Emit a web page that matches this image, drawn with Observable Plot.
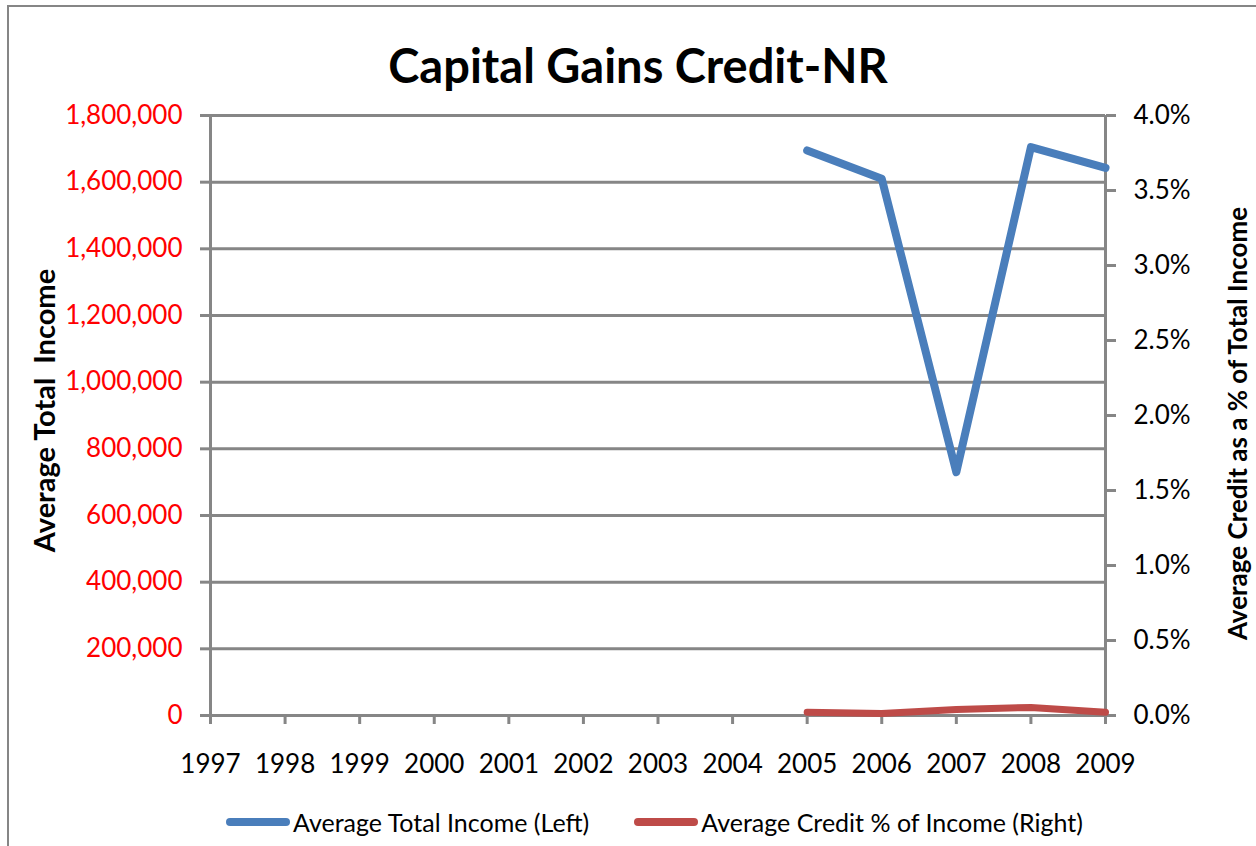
<!DOCTYPE html>
<html>
<head>
<meta charset="utf-8">
<script src="https://cdn.jsdelivr.net/npm/d3@7"></script>
<script src="https://cdn.jsdelivr.net/npm/@observablehq/plot@0.6"></script>
<style>
  html, body { margin: 0; padding: 0; background: #fff; overflow: hidden; }
  body { font-family: Lato, "Open Sans", sans-serif; width: 1256px; height: 846px; position: relative; }
  #frame { position: absolute; left: 7px; top: 5px; width: 1400px; height: 1000px;
           border-left: 2px solid #868686; border-top: 2px solid #868686; box-sizing: border-box; }
  #title { position: absolute; left: 0; top: 38px; width: 1276px; text-align: center;
           font-weight: bold; font-size: 47px; line-height: 54px; color: #000; }
  #chart { position: absolute; left: 0; top: 100px; }
  #legend { position: absolute; left: 226px; top: 806px; height: 32px; display: flex; align-items: center;
            font-size: 25px; color: #000; white-space: nowrap; }
  .sw { display: inline-block; width: 64px; height: 8px; border-radius: 4px; margin-right: 3px; }
  .item { display: flex; align-items: center; }
</style>
</head>
<body>
<div id="frame"></div>
<div id="title">Capital Gains Credit-NR</div>
<div id="chart"></div>
<div id="legend"></div>
<script>
// ---- data ----
const years = [1997, 1998, 1999, 2000, 2001, 2002, 2003, 2004, 2005, 2006, 2007, 2008, 2009];
const dataYears = [2005, 2006, 2007, 2008, 2009];
const avgIncome = [1695000, 1610000, 730000, 1705000, 1643000];
const creditPct = [0.022, 0.013, 0.040, 0.054, 0.022]; // percent of income
const leftTicks = [0, 200000, 400000, 600000, 800000, 1000000, 1200000, 1400000, 1600000, 1800000];
const rightTicks = [0, 0.5, 1.0, 1.5, 2.0, 2.5, 3.0, 3.5, 4.0];
const seriesNames = ["Average Total Income (Left)", "Average Credit % of Income (Right)"];
const seriesColors = ["#4A7EBB", "#BE4B48"];
const leftTitle = "Average Total\u00A0 Income";
const rightTitle = "Average Credit as a % of Total Income";

const leftMax = 1800000, rightMax = 4.0;
const toLeft = p => p / rightMax * leftMax;
const grey = "#868686";

const incomeData = dataYears.map((yr, i) => ({year: yr, v: avgIncome[i]}));
const creditData = dataYears.map((yr, i) => ({year: yr, v: toLeft(creditPct[i])}));

const plot = Plot.plot({
  width: 1256,
  height: 700,
  marginTop: 15,
  marginBottom: 85,
  marginLeft: 210,
  marginRight: 151,
  style: {fontFamily: "Lato, 'Open Sans', sans-serif", fontSize: "26px", background: "transparent", overflow: "visible"},
  x: {domain: [years[0], years[years.length - 1]]},
  y: {domain: [0, leftMax]},
  marks: [
    Plot.gridY({ticks: leftTicks, stroke: grey, strokeOpacity: 1, strokeWidth: 3}),
    Plot.ruleX([years[0], years[years.length - 1]], {y1: 0, y2: leftMax, stroke: grey, strokeWidth: 3}),
    Plot.axisY({anchor: "left", ticks: leftTicks, tickFormat: d3.format(","), tickSize: 10, tickPadding: 18,
                stroke: grey, strokeWidth: 3, fill: "#FF0000", label: null}),
    Plot.axisY({anchor: "right", ticks: rightTicks.map(toLeft),
                tickFormat: d => (d / leftMax * rightMax).toFixed(1) + "%", tickSize: 10, tickPadding: 18,
                stroke: grey, strokeWidth: 3, fill: "#000", label: null}),
    Plot.axisX({anchor: "bottom", ticks: years, tickFormat: d => String(d), tickSize: 9, tickPadding: 30,
                stroke: grey, strokeWidth: 3, fill: "#000", label: null}),
    Plot.text([leftTitle], {text: d => d, frameAnchor: "left", dx: -165, dy: -5, rotate: -90, textAnchor: "middle",
                lineAnchor: "middle", fontWeight: "bold", fontSize: 29, fill: "#000"}),
    Plot.text([rightTitle], {text: d => d, frameAnchor: "right", dx: 133, dy: 8, rotate: -90, textAnchor: "middle",
                lineAnchor: "middle", fontWeight: "bold", fontSize: 26, fill: "#000"}),
    Plot.line(creditData, {x: "year", y: "v", stroke: seriesColors[1], strokeWidth: 7,
                strokeLinecap: "round", strokeLinejoin: "round"}),
    Plot.line(incomeData, {x: "year", y: "v", stroke: seriesColors[0], strokeWidth: 8,
                strokeLinecap: "round", strokeLinejoin: "round"})
  ]
});
document.getElementById("chart").appendChild(plot);

const legend = document.getElementById("legend");
seriesNames.forEach((name, i) => {
  const item = document.createElement("div");
  item.className = "item";
  if (i > 0) item.style.marginLeft = "45px";
  const sw = document.createElement("span");
  sw.className = "sw";
  sw.style.background = seriesColors[i];
  const t = document.createElement("span");
  t.textContent = name;
  item.appendChild(sw);
  item.appendChild(t);
  legend.appendChild(item);
});
</script>
</body>
</html>
